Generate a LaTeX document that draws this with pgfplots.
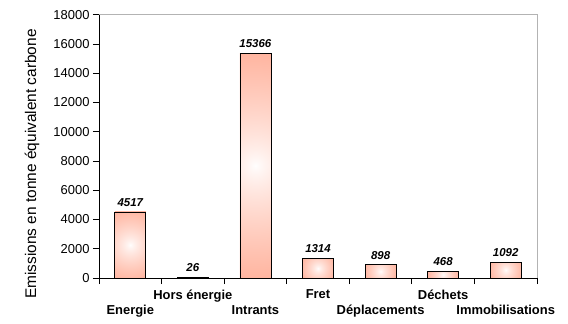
\documentclass[border=0pt]{standalone}
\usepackage{pgfplots}
\pgfplotsset{compat=1.18}
\usepackage{fontspec}
\setmainfont{Liberation Sans}
\definecolor{framegray}{RGB}{179,179,179}
% circular gradient (white centre -> salmon) adapted to each bar's aspect ratio
\newcommand{\declbar}[3]{\pgfdeclarefunctionalshading{#1}{\pgfpoint{-50bp}{-50bp}}{\pgfpoint{50bp}{50bp}}{}{#3 mul dup mul exch #2 mul dup mul add sqrt 0.75 exp dup 0.4902 mul 1 exch sub exch 0.6275 mul 1 exch sub 1 3 1 roll}}
\declbar{shA}{0.008493}{0.018104}
\declbar{shB}{0.019990}{0.000300}
\declbar{shC}{0.002732}{0.019811}
\declbar{shD}{0.016996}{0.010537}
\declbar{shE}{0.018419}{0.007807}
\declbar{shF}{0.019534}{0.004310}
\declbar{shG}{0.017775}{0.009163}
\pgfplotsset{/pgf/number format/.cd, 1000 sep={}, assume math mode=true}
\begin{document}
\begin{tikzpicture}
\useasboundingbox (0,0) rectangle (568bp,324bp);
\begin{axis}[
  at={(99bp,46bp)}, anchor=south west,
  scale only axis, width=438bp, height=263.3bp,
  xmin=-0.5, xmax=6.5, ymin=0, ymax=18000,
  axis lines*=left,
  axis line style={black, line width=0.8bp},
  ytick={0,2000,...,18000},
  scaled y ticks=false,
  xtick={-0.5,0.5,...,6.5},
  x tick label as interval,
  xticklabels={{\strut\\Energie},{Hors énergie\\\strut},{\strut\\Intrants},{Fret\\\strut},{\strut\\Déplacements},{Déchets\\\strut},{\strut\\Immobilisations}},
  tick align=outside, major tick length=6bp,
  tick style={black, line width=0.8bp},
  yticklabel style={font=\fontsize{13}{15}\selectfont},
  xticklabel style={font=\bfseries\fontsize{13}{15}\selectfont, align=center, yshift=-2bp},
  ylabel={Emissions en tonne équivalent carbone},
  ylabel style={font=\fontsize{15.5}{18}\selectfont, at={(axis description cs:-0.153,0.433)}, anchor=center},
  ybar, bar width=31bp,
  nodes near coords,
  every node near coord/.append style={font=\bfseries\itshape\fontsize{11.5}{13}\selectfont, yshift=2bp},
  mybar/.style={ybar, bar shift=0pt, draw=black, line width=0.8bp},
]
\addplot[mybar, shading=shA] coordinates {(0,4517)};
\addplot[mybar, shading=shB] coordinates {(1,26)};
\addplot[mybar, shading=shC] coordinates {(2,15366)};
\addplot[mybar, shading=shD] coordinates {(3,1314)};
\addplot[mybar, shading=shE] coordinates {(4,898)};
\addplot[mybar, shading=shF] coordinates {(5,468)};
\addplot[mybar, shading=shG] coordinates {(6,1092)};
\end{axis}
\draw[framegray, line width=0.8bp] (current axis.north west) -- (current axis.north east) -- (current axis.south east);
\end{tikzpicture}
\end{document}
